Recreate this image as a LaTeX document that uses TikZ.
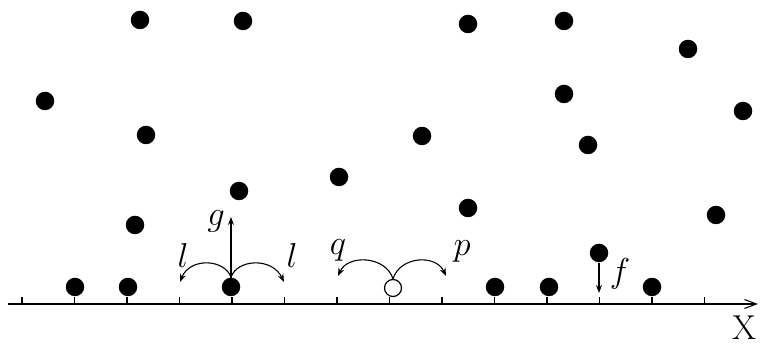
\documentclass[tikz,border=0pt]{standalone}
\usepackage{tikz}
\usetikzlibrary{arrows.meta,positioning}
\tikzset{
  ball/.style     = {circle, fill=black, inner sep=0pt, minimum size=9.25pt},
  hole/.style     = {circle, draw, line width=0.6pt, fill=white, inner sep=0pt, minimum size=8.5pt},
  vec/.style      = {-{Stealth[length=4pt,width=3pt]}, line width=0.55pt},
  axis/.style     = {-{Straight Barb[length=6pt,width=4.5pt]}, line width=0.55pt},
  tickmark/.style = {line width=0.55pt},
  lab/.style      = {font=\LARGE, anchor=base, inner sep=0pt},
}
\begin{document}
\begin{tikzpicture}[x=0.5pt,y=-0.5pt]
  \useasboundingbox (0,0) rectangle (761,351);
  % axis
  \coordinate (xs) at (8,304);
  \coordinate (xe) at (758,304);
  \draw[axis] (xs) -- (xe);
  \foreach \i in {0,...,13}
    \draw[tickmark] (22+52.5*\i,304) -- ++(0,-7);
  \node[lab] (xlab) at (744,340) {X};
  % particles on the line
  \foreach \n/\x in {a1/75,a2/128,a3/231,a4/495,a5/549,a6/652}
    \node[ball] (\n) at (\x,287) {};
  \node[hole] (h) at (393,288) {};
  % particles above the line
  \foreach \n/\x/\y in {c1/140/20,c2/243/21,c3/468/24,c4/564/21,c5/688/49,
      c6/45/101,c7/564/94,c8/743/111,c9/146/135,c10/422/136,c11/588/145,
      c12/239/191,c13/339/177,c14/468/208,c15/135/225,c16/716/215,c17/599/253}
    \node[ball] (\n) at (\x,\y) {};
  % moves
  \coordinate (gtip) at (231,217);
  \coordinate (lL) at (180,282);
  \coordinate (lR) at (284,282);
  \coordinate (qtip) at (338,276);
  \coordinate (ptip) at (446,276);
  \coordinate (ftip) at (599,293);
  \draw[vec] (a3.center) -- (gtip);
  \draw[vec] (a3.north) .. controls (225,259) and (190,257) .. (lL);
  \draw[vec] (a3.north) .. controls (237,259) and (272,257) .. (lR);
  \draw[vec] (h.north) .. controls (386,256) and (348,254) .. (qtip);
  \draw[vec] (h.north) .. controls (400,256) and (436,254) .. (ptip);
  \draw[vec] (c17.south) -- (ftip);
  \node[lab] (glab) at (216,226) {$g$};
  \node[lab] (llab) at (183,268) {$l$};
  \node[lab] (rlab) at (292,268) {$l$};
  \node[lab] (qlab) at (338,255) {$q$};
  \node[lab] (plab) at (462,256) {$p$};
  \node[lab] (flab) at (620,283) {$f$};
\end{tikzpicture}
\end{document}
